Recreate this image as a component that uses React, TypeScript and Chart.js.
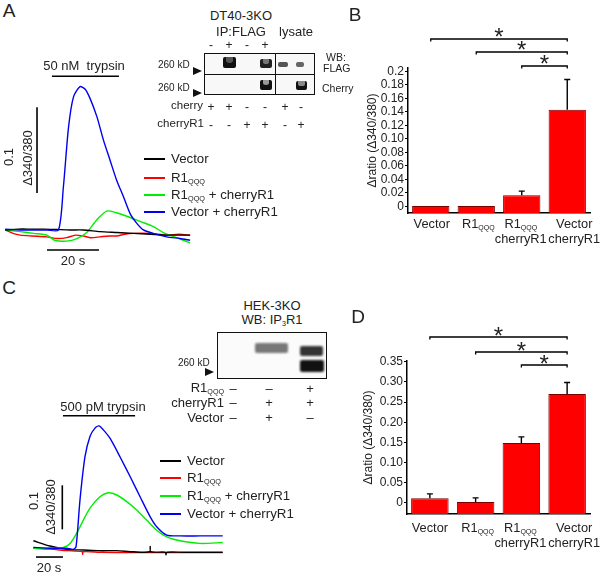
import React, { useEffect, useRef } from "react";
import { Chart, registerables } from "chart.js";
Chart.register(...registerables);

const FONT = '"Liberation Sans", Arial, Helvetica, sans-serif';

// ===== Panel A: DT40-3KO, 50 nM trypsin (time s, Δ340/380) =====
const aVectorT = [0, 5, 10, 15, 20, 25, 30, 36.5, 43, 49.4, 55.8, 62.2, 67, 71.2];
const aVectorV = [0, 0.001, 0.001, 0.001, 0.0005, 0, 0, -0.002, -0.003, -0.004, -0.005, -0.006, -0.006, -0.006];
const aR1T = [0, 3, 5.8, 10, 16, 20, 23.7, 27, 30.1, 33, 36.5, 40, 43, 46, 49.4, 55.8, 62.2, 67, 71.2];
const aR1V = [0, -0.004, -0.006, -0.007, -0.008, -0.01, -0.009, -0.006, -0.007, -0.009, -0.008, -0.007, -0.007, -0.005, -0.004, -0.004, -0.006, -0.005, -0.006];
const aR1CherryT = [0, 5.8, 11, 16, 19, 23.7, 27.6, 31.4, 35.3, 39.1, 42.9, 46.8, 51.9, 57, 60.9, 66, 71.2];
const aR1CherryV = [0, -0.002, -0.004, -0.006, -0.012, -0.013, -0.01, -0.003, 0.012, 0.022, 0.02, 0.016, 0.01, 0.004, -0.003, -0.009, -0.015];
const aVecCherryT = [0, 5.8, 10.9, 16, 20.5, 22.4, 24.4, 26.3, 28.8, 30.8, 32.7, 35.3, 37.8, 40.4, 42.9, 45.5, 48.1, 50.6, 53.2, 57, 62.2, 67.3, 71.2];
const aVecCherryV = [0.001, 0, 0, 0, 0, 0.05, 0.12, 0.155, 0.167, 0.164, 0.153, 0.132, 0.105, 0.081, 0.058, 0.039, 0.019, 0.008, 0, -0.004, -0.008, -0.01, -0.012];
const aScaleBarT = [12.25, 12.25];
const aScaleBarV = [0.043, 0.143];
const aTimeBarT = [16.1, 36.1];
const aTimeBarV = [-0.0233, -0.0233];
const aTrypsinT = [18, 43.8];
const aTrypsinV = [0.179, 0.179];

// ===== Panel C: HEK-3KO, 500 pM trypsin =====
const cVectorT = [0.25, 12.6, 24.9, 37.3, 49.6, 62, 74.3, 86.4, 86.8, 87.2, 98, 98.5, 99, 111.4, 123.7, 140.5];
const cVectorV = [0.021, 0.009, 0.0015, 0, -0.0015, -0.0015, -0.004, -0.004, 0.008, -0.004, -0.005, -0.011, -0.005, -0.005, -0.005, -0.005];
const cR1T = [0.25, 12.6, 24.9, 36.5, 36.8, 37.1, 49.6, 74.3, 99, 140.5];
const cR1V = [0.004, 0.002, -0.0015, -0.004, -0.01, -0.004, -0.005, -0.006, -0.006, -0.006];
const cR1CherryT = [0.25, 12.6, 22.5, 27.4, 32.3, 37.3, 42.2, 49.6, 55.8, 62, 69.4, 76.8, 84.2, 91.6, 99, 108.9, 123.7, 140.5];
const cR1CherryV = [0.004, 0.004, 0.006, 0.015, 0.038, 0.068, 0.095, 0.121, 0.13, 0.125, 0.11, 0.091, 0.068, 0.045, 0.03, 0.021, 0.015, 0.017];
const cVecCherryT = [0.25, 12.6, 24.9, 29.9, 31.9, 34.8, 38.5, 42.2, 45.9, 48.9, 52.1, 57, 64.4, 71.9, 79.3, 86.7, 91.6, 99, 108.9, 123.7, 140.5];
const cVecCherryV = [0.006, 0.004, 0.004, 0.0015, 0.0076, 0.114, 0.212, 0.258, 0.277, 0.282, 0.273, 0.254, 0.212, 0.167, 0.121, 0.076, 0.053, 0.034, 0.032, 0.032, 0.032];
const cScaleBarT = [21.7, 21.7];
const cScaleBarV = [0.047, 0.147];
const cTimeBarT = [2.2, 22.2];
const cTimeBarV = [-0.016, -0.016];
const cTrypsinT = [22.2, 75.6];
const cTrypsinV = [0.305, 0.305];

// ===== Panel B / D bar charts =====
const barLine1 = ["Vector", "R1_{QQQ}", "R1_{QQQ}", "Vector"];
const barLine2 = ["", "", "cherryR1", "cherryR1"];
const bMeans = [0.0005, 0.0005, 0.0165, 0.143];
const bErrors = [null, null, 0.0225, 0.188];
const bTickValues = [0, 0.02, 0.04, 0.06, 0.08, 0.1, 0.12, 0.14, 0.16, 0.18, 0.2];
const bTickLabels = ["0", "0.02", "0.04", "0.06", "0.08", "0.10", "0.12", "0.14", "0.16", "0.18", "0.2"];
const dMeans = [0.011, 0.002, 0.1485, 0.27];
const dErrors = [0.022, 0.012, 0.1635, 0.2985];
const dTickValues = [0, 0.05, 0.1, 0.15, 0.2, 0.25, 0.3, 0.35];
const dTickLabels = ["0", "0.05", "0.10", "0.15", "0.20", "0.25", "0.30", "0.35"];
const sigFrom = [0, 1, 2];
const sigTo = [3, 3, 3];

// blot lane signs
const aTopSigns = ["-", "+", "-", "+"];
const aCherrySigns = ["+", "+", "-", "-", "+", "-"];
const aCherryR1Signs = ["-", "-", "+", "+", "-", "+"];
const cR1Signs = ["–", "–", "+"];
const cCherryR1Signs = ["–", "+", "+"];
const cVectorSigns = ["–", "+", "–"];

const pts = (t: number[], v: number[]) => t.map((x, i) => ({ x, y: v[i] }));

function TraceChart(props: any) {
  const ref = useRef<HTMLCanvasElement>(null);
  useEffect(() => {
    const { series, marks, xMin, xMax, yMin, yMax } = props;
    const datasets: any[] = [];
    marks.forEach((m: any) =>
      datasets.push({ data: pts(m.t, m.v), borderColor: "#000", borderWidth: 1.6, pointRadius: 0, tension: 0, order: 0 })
    );
    series.forEach((s: any, i: number) =>
      datasets.push({ data: pts(s.t, s.v), borderColor: s.color, borderWidth: 1.4, pointRadius: 0, tension: 0.25, order: i + 1 })
    );
    const chart = new Chart(ref.current!, {
      type: "line",
      data: { datasets },
      options: {
        animation: false,
        responsive: false,
        events: [],
        layout: { padding: 0, autoPadding: false } as any,
        plugins: { legend: { display: false }, tooltip: { enabled: false } },
        scales: {
          x: { type: "linear", display: false, min: xMin, max: xMax },
          y: { type: "linear", display: false, min: yMin, max: yMax },
        },
      },
    });
    return () => chart.destroy();
  }, []);
  return (
    <canvas
      ref={ref}
      width={props.width}
      height={props.height}
      style={{ position: "absolute", left: props.left, top: props.top, width: props.width, height: props.height }}
    />
  );
}

function parseRich(s: string) {
  const parts: { t: string; sub: boolean }[] = [];
  const re = /_\{([^}]*)\}/g;
  let last = 0;
  let m: RegExpExecArray | null;
  while ((m = re.exec(s))) {
    if (m.index > last) parts.push({ t: s.slice(last, m.index), sub: false });
    parts.push({ t: m[1], sub: true });
    last = re.lastIndex;
  }
  if (last < s.length) parts.push({ t: s.slice(last), sub: false });
  return parts;
}

function drawRich(ctx: CanvasRenderingContext2D, s: string, cx: number, cy: number, size: number) {
  const parts = parseRich(s);
  const fMain = `${size}px ${FONT}`;
  const fSub = `${Math.round(size * 0.55)}px ${FONT}`;
  let w = 0;
  parts.forEach((p) => {
    ctx.font = p.sub ? fSub : fMain;
    w += ctx.measureText(p.t).width;
  });
  let x = cx - w / 2;
  const base = cy + size * 0.36;
  ctx.textAlign = "left";
  ctx.textBaseline = "alphabetic";
  parts.forEach((p) => {
    ctx.font = p.sub ? fSub : fMain;
    ctx.fillText(p.t, x, p.sub ? base + size * 0.18 : base);
    x += ctx.measureText(p.t).width;
  });
}

function BarChart(props: any) {
  const ref = useRef<HTMLCanvasElement>(null);
  useEffect(() => {
    const p = props;
    const extras = {
      id: "extras",
      afterDatasetsDraw(chart: any) {
        const ctx: CanvasRenderingContext2D = chart.ctx;
        const ys = chart.scales.y;
        const meta = chart.getDatasetMeta(0);
        const area = chart.chartArea;
        ctx.save();
        ctx.strokeStyle = "#000";
        ctx.fillStyle = "#222";
        ctx.lineWidth = 1.4;
        // error bars
        p.errors.forEach((e: number | null, i: number) => {
          if (e == null) return;
          const bx = meta.data[i].x;
          const top = ys.getPixelForValue(p.means[i]);
          const et = ys.getPixelForValue(e);
          ctx.beginPath();
          ctx.moveTo(bx, top);
          ctx.lineTo(bx, et);
          ctx.moveTo(bx - 3, et);
          ctx.lineTo(bx + 3, et);
          ctx.stroke();
        });
        // category labels
        p.line1.forEach((l: string, i: number) => {
          const bx = meta.data[i].x + (p.labelShift[i] || 0);
          drawRich(ctx, l, bx, area.bottom + p.labelDy1, 12.8);
          if (p.line2[i]) drawRich(ctx, p.line2[i], bx, area.bottom + p.labelDy2, 12.8);
        });
        // significance brackets
        ctx.lineWidth = 1.3;
        sigFrom.forEach((f, k) => {
          const x1 = meta.data[f].x;
          const x2 = meta.data[sigTo[k]].x;
          const y = area.top + p.bracketDy[k];
          ctx.beginPath();
          ctx.moveTo(x1, y + 2.5);
          ctx.lineTo(x1, y);
          ctx.lineTo(x2, y);
          ctx.lineTo(x2, y + 2.5);
          ctx.stroke();
          ctx.font = `24px ${FONT}`;
          ctx.textAlign = "center";
          ctx.textBaseline = "alphabetic";
          ctx.fillText("*", (x1 + x2) / 2, y + p.starDy);
        });
        ctx.restore();
      },
    };
    const chart = new Chart(ref.current!, {
      type: "bar",
      data: {
        labels: p.line1,
        datasets: [
          {
            data: p.means,
            base: p.min,
            backgroundColor: "#ff0000",
            borderColor: "#7a0000",
            borderWidth: 1,
            barPercentage: 0.82,
            categoryPercentage: 1,
          } as any,
        ],
      },
      options: {
        animation: false,
        responsive: false,
        events: [],
        layout: { padding: { top: p.padTop, bottom: p.padBottom, left: 0, right: 10 } },
        plugins: { legend: { display: false }, tooltip: { enabled: false } },
        scales: {
          x: {
            grid: { display: false },
            border: { display: true, color: "#000", width: 1.5 },
            ticks: { display: false },
            afterFit: (s: any) => {
              s.height = p.xAxisH;
            },
          },
          y: {
            min: p.min,
            max: p.max,
            afterBuildTicks: (s: any) => {
              s.ticks = p.tickValues.map((v: number) => ({ value: v }));
            },
            afterFit: (s: any) => {
              s.width = p.yAxisW;
            },
            ticks: {
              autoSkip: false,
              callback: (_v: any, i: number) => p.tickLabels[i],
              font: { family: FONT, size: 12 },
              color: "#222",
              padding: 1,
            },
            grid: { display: true, drawOnChartArea: false, drawTicks: true, tickLength: 3, color: "#000", lineWidth: 1 },
            border: { display: true, color: "#000", width: 1.5 },
            title: {
              display: true,
              text: "Δratio (Δ340/380)",
              font: { family: FONT, size: 12 },
              color: "#222",
              padding: { top: p.titlePad, bottom: 0 },
            },
          },
        },
      },
      plugins: [extras],
    });
    return () => chart.destroy();
  }, []);
  return (
    <canvas
      ref={ref}
      width={props.width}
      height={props.height}
      style={{ position: "absolute", left: props.left, top: props.top, width: props.width, height: props.height }}
    />
  );
}

function T(props: any) {
  const { x, y, size = 13, align = "center", rotate, children, color = "#222" } = props;
  const tx = align === "center" ? "-50%" : align === "right" ? "-100%" : "0";
  return (
    <div
      style={{
        position: "absolute",
        left: x,
        top: y,
        fontSize: size,
        lineHeight: 1,
        whiteSpace: "nowrap",
        color,
        transform: `translate(${tx}, -50%)${rotate ? ` rotate(${rotate}deg)` : ""}`,
        transformOrigin: rotate ? "50% 50%" : undefined,
      }}
    >
      {children}
    </div>
  );
}

const Sub = ({ children }: any) => (
  <span style={{ fontSize: "0.55em", position: "relative", top: "0.3em" }}>{children}</span>
);

function Box(props: any) {
  return <div style={{ position: "absolute", left: props.l, top: props.t, width: props.w, height: props.h, ...props.s }} />;
}

// western-blot band; "u" gives the U-shaped (smiling) band look
function Band(props: any) {
  return (
    <div
      style={{
        position: "absolute",
        left: props.l,
        top: props.t,
        width: props.w,
        height: props.h,
        background: props.c || "#111",
        borderRadius: 2,
        filter: `blur(${props.b ?? 0.6}px)`,
        overflow: "hidden",
      }}
    >
      {props.u ? (
        <div
          style={{
            position: "absolute",
            left: "22%",
            width: "56%",
            top: 0,
            height: "50%",
            background: props.uc || "#777",
            borderRadius: "0 0 45% 45%",
          }}
        />
      ) : null}
    </div>
  );
}

function Arrow({ x, y }: any) {
  return (
    <div
      style={{
        position: "absolute",
        left: x,
        top: y - 4,
        width: 0,
        height: 0,
        borderTop: "4px solid transparent",
        borderBottom: "4px solid transparent",
        borderLeft: "9px solid #111",
      }}
    />
  );
}

function LegendRows({ x, ys }: any) {
  const items = [
    { c: "#000", label: <>Vector</> },
    { c: "#ff0000", label: <>R1<Sub>QQQ</Sub></> },
    { c: "#00ee00", label: <>R1<Sub>QQQ</Sub> + cherryR1</> },
    { c: "#0000ee", label: <>Vector + cherryR1</> },
  ];
  return (
    <>
      {items.map((it, i) => (
        <React.Fragment key={i}>
          <Box l={x} t={ys[i] - 1} w={21} h={2} s={{ background: it.c }} />
          <T x={x + 27} y={ys[i]} size={13.3} align="left">
            {it.label}
          </T>
        </React.Fragment>
      ))}
    </>
  );
}

export default function App() {
  const laneA = [211, 229, 247, 265, 285, 301];
  const laneC = [233, 269, 310];
  return (
    <div
      style={{
        position: "absolute",
        left: 0,
        top: 0,
        width: 600,
        height: 572,
        background: "#fff",
        overflow: "hidden",
        fontFamily: FONT,
        color: "#222",
      }}
    >
      {/* Panel A traces */}
      <TraceChart
        left={0}
        top={60}
        width={200}
        height={200}
        xMin={-2}
        xMax={75}
        yMin={-0.035}
        yMax={0.198}
        series={[
          { t: aVecCherryT, v: aVecCherryV, color: "#0000ee" },
          { t: aVectorT, v: aVectorV, color: "#000" },
          { t: aR1CherryT, v: aR1CherryV, color: "#00ee00" },
          { t: aR1T, v: aR1V, color: "#ff0000" },
        ]}
        marks={[
          { t: aScaleBarT, v: aScaleBarV },
          { t: aTimeBarT, v: aTimeBarV },
          { t: aTrypsinT, v: aTrypsinV },
        ]}
      />
      {/* Panel C traces */}
      <TraceChart
        left={20}
        top={390}
        width={220}
        height={180}
        xMin={-9.63}
        xMax={153.3}
        yMin={-0.04545}
        yMax={0.3636}
        series={[
          { t: cVecCherryT, v: cVecCherryV, color: "#0000ee" },
          { t: cR1CherryT, v: cR1CherryV, color: "#00ee00" },
          { t: cVectorT, v: cVectorV, color: "#000" },
          { t: cR1T, v: cR1V, color: "#ff0000" },
        ]}
        marks={[
          { t: cScaleBarT, v: cScaleBarV },
          { t: cTimeBarT, v: cTimeBarV },
          { t: cTrypsinT, v: cTrypsinV },
        ]}
      />
      {/* Panel B */}
      <BarChart
        left={355}
        top={0}
        width={245}
        height={260}
        padTop={68}
        padBottom={7}
        xAxisH={40}
        yAxisW={53}
        titlePad={10}
        min={-0.01}
        max={0.205}
        means={bMeans}
        errors={bErrors}
        tickValues={bTickValues}
        tickLabels={bTickLabels}
        line1={barLine1}
        line2={barLine2}
        labelShift={[1, 2, -1, 7]}
        labelDy1={10}
        labelDy2={25}
        bracketDy={[-29, -16, -2]}
        starDy={6}
      />
      {/* Panel D */}
      <BarChart
        left={355}
        top={290}
        width={245}
        height={260}
        padTop={71}
        padBottom={6}
        xAxisH={30}
        yAxisW={52}
        titlePad={6}
        min={-0.028}
        max={0.352}
        means={dMeans}
        errors={dErrors}
        tickValues={dTickValues}
        tickLabels={dTickLabels}
        line1={barLine1}
        line2={barLine2}
        labelShift={[0, 2, -1, 7]}
        labelDy1={13}
        labelDy2={28}
        bracketDy={[-24, -9, 4]}
        starDy={7}
      />

      {/* Panel letters */}
      <T x={9} y={10} size={19}>A</T>
      <T x={355} y={14} size={19}>B</T>
      <T x={9} y={287} size={19}>C</T>
      <T x={358} y={316} size={19}>D</T>

      {/* Panel A annotations */}
      <T x={84} y={65} size={13}>50 nM&nbsp;&nbsp;trypsin</T>
      <T x={73} y={260} size={13}>20 s</T>
      <T x={8} y={157} size={13} rotate={-90}>0.1</T>
      <T x={27} y={158} size={13} rotate={-90}>Δ340/380</T>
      <LegendRows x={144} ys={[159, 178, 195, 212]} />

      {/* Panel A blot */}
      <T x={241} y={15} size={13}>DT40-3KO</T>
      <T x={241} y={31} size={13}>IP:FLAG</T>
      <T x={296} y={31} size={13}>lysate</T>
      {aTopSigns.map((s, i) => (
        <T key={"ts" + i} x={laneA[i]} y={45} size={12}>{s}</T>
      ))}
      <Box l={204} t={53} w={111} h={42} s={{ border: "1.5px solid #111", boxSizing: "border-box", background: "#f8f8f8" }} />
      <Box l={204} t={73.5} w={111} h={1.5} s={{ background: "#111" }} />
      <Box l={274.5} t={53} w={1.5} h={42} s={{ background: "#111" }} />
      <Band l={223} t={57} w={13} h={11} c="#111" u uc="#555" />
      <Band l={260} t={59} w={12} h={9} c="#222" u uc="#777" />
      <Band l={278} t={62} w={10} h={5} c="#555" />
      <Band l={296} t={62} w={8} h={5} c="#666" />
      <Band l={260} t={80} w={12} h={10} c="#111" u uc="#999" />
      <Band l={296} t={81} w={11} h={9} c="#111" u uc="#888" />
      <T x={158} y={65} size={10} align="left">260 kD</T>
      <T x={158} y={88} size={10} align="left">260 kD</T>
      <Arrow x={193} y={71} />
      <Arrow x={193} y={93} />
      <T x={326} y={57} size={10.5} align="left">WB:</T>
      <T x={323} y={68} size={10.5} align="left">FLAG</T>
      <T x={322} y={88} size={10.5} align="left">Cherry</T>
      <T x={203} y={106} size={11.5} align="right">cherry</T>
      <T x={204} y={124} size={11.5} align="right">cherryR1</T>
      {aCherrySigns.map((s, i) => (
        <T key={"cs" + i} x={laneA[i]} y={107} size={12}>{s}</T>
      ))}
      {aCherryR1Signs.map((s, i) => (
        <T key={"cr" + i} x={laneA[i]} y={125} size={12}>{s}</T>
      ))}

      {/* Panel C annotations */}
      <T x={103} y={406} size={13}>500 pM trypsin</T>
      <T x={49} y={567} size={13}>20 s</T>
      <T x={33} y={501} size={13} rotate={-90}>0.1</T>
      <T x={50} y={507} size={13} rotate={-90}>Δ340/380</T>
      <LegendRows x={160} ys={[461, 478, 496, 514]} />

      {/* Panel C blot */}
      <T x={272} y={305} size={13}>HEK-3KO</T>
      <T x={272} y={320} size={13}>WB: IP<Sub>3</Sub>R1</T>
      <Box l={217} t={332} w={110} h={47} s={{ border: "1.5px solid #111", boxSizing: "border-box", background: "#fbfbfb" }} />
      <Band l={255} t={343} w={33} h={10} c="#777" b={1} />
      <Band l={300} t={346} w={23} h={10} c="#333" b={1} />
      <Band l={300} t={360} w={24} h={12} c="#111" b={0.8} />
      <T x={178} y={363} size={10} align="left">260 kD</T>
      <Arrow x={205} y={372} />
      <T x={224} y={388} size={13} align="right">R1<Sub>QQQ</Sub></T>
      <T x={224} y={402} size={13} align="right">cherryR1</T>
      <T x={224} y={417} size={13} align="right">Vector</T>
      {cR1Signs.map((s, i) => (
        <T key={"c1" + i} x={laneC[i]} y={388} size={13}>{s}</T>
      ))}
      {cCherryR1Signs.map((s, i) => (
        <T key={"c2" + i} x={laneC[i]} y={402} size={13}>{s}</T>
      ))}
      {cVectorSigns.map((s, i) => (
        <T key={"c3" + i} x={laneC[i]} y={417} size={13}>{s}</T>
      ))}
    </div>
  );
}
